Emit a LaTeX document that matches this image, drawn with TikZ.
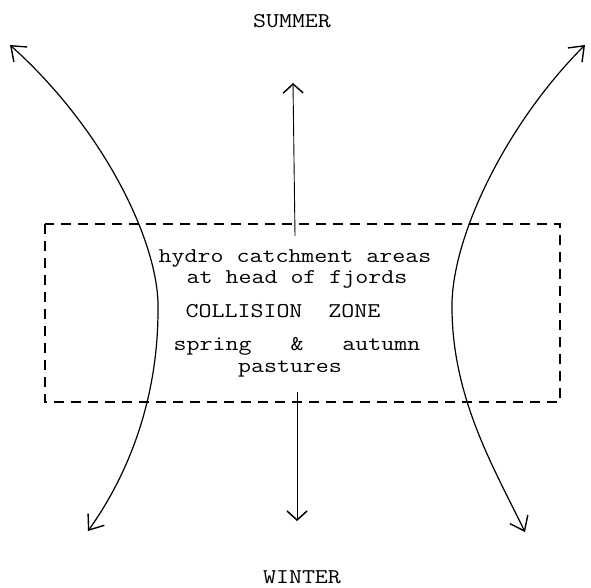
\documentclass[tikz,border=0pt]{standalone}
\usepackage{graphicx}
\usetikzlibrary{arrows.meta}
\newcommand\twr[1]{\scalebox{1.2}[1]{\fontsize{21}{25}\selectfont\ttfamily #1}}
\begin{document}
\begin{tikzpicture}[x=1pt,y=-1pt,
  lbl/.style={inner sep=0pt,anchor=base},
  curve/.style={line width=1.2pt,{Straight Barb[length=13pt,width=20pt,line width=1.4pt]}-{Straight Barb[length=13pt,width=20pt,line width=1.4pt]}},
  vline/.style={line width=0.9pt,-{Straight Barb[length=9pt,width=20pt,line width=1.5pt]}},
  zone/.style={line width=1.3pt,dash pattern=on 10pt off 7pt}]
\useasboundingbox (0,0) rectangle (591,587);
% labels
\node[lbl] (summer) at (292,27) {\twr{SUMMER}};
\node[lbl] (winter) at (302,583) {\twr{WINTER}};
% dashed box
\draw[zone] (45,224) rectangle (560,402);
% text
\node[lbl] (l1) at (295,262) {\twr{hydro catchment areas}};
\node[lbl] (l2) at (297,283) {\twr{at head of fjords}};
\node[lbl] (l3) at (283,317) {\twr{COLLISION\ \ ZONE}};
\node[lbl] (l4) at (297,350) {\twr{spring\ \ \ \&\ \ \ autumn}};
\node[lbl] (l5) at (290,372) {\twr{pastures}};
% central arrows
\coordinate (ctop) at (295,236);
\coordinate (ntip) at (293,83);
\coordinate (cbot) at (297,392);
\coordinate (stip) at (297,521);
\draw[vline] (ctop) -- (ntip);
\draw[vline] (cbot) -- (stip);
% left curve
\coordinate (lt) at (10,45);
\coordinate (lm) at (158,310);
\coordinate (lb) at (88,531);
\draw[curve] (lt) .. controls (105,130) and (160,245) .. (lm)
                  .. controls (158,400) and (128,475) .. (lb);
% right curve
\coordinate (rt) at (585,45);
\coordinate (rm) at (452,310);
\coordinate (rb) at (525,532);
\draw[curve] (rt) .. controls (505,125) and (450,240) .. (rm)
                  .. controls (453,400) and (495,470) .. (rb);
\end{tikzpicture}
\end{document}
